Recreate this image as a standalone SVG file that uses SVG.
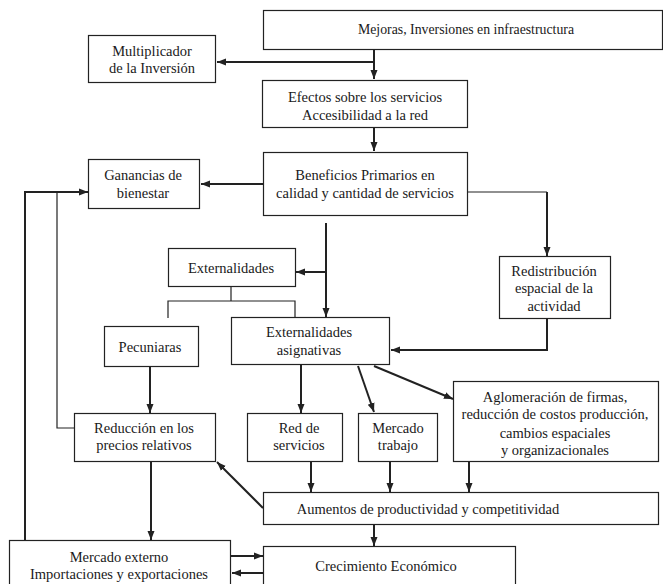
<svg xmlns="http://www.w3.org/2000/svg" width="663" height="584" viewBox="0 0 663 584">
<style>
.box{fill:#fff;stroke:#222;stroke-width:1.2}
text{font-family:"Liberation Serif","Times New Roman",serif;font-size:14.5px;fill:#1a1a1a;text-anchor:middle}
.c{fill:none;stroke:#222;stroke-width:2}
.t{fill:none;stroke:#222;stroke-width:1.2}
</style>
<defs>
<marker id="ah" markerUnits="userSpaceOnUse" markerWidth="10" markerHeight="10" viewBox="0 0 10 10" refX="9" refY="5" orient="auto">
<path d="M0,1.5 L9,5 L0,8.5 Z" fill="#222"/>
</marker>
</defs>
<rect width="663" height="584" fill="#fff"/>
<g id="connectors">
<path class="c" d="M374,49 V79" marker-end="url(#ah)"/>
<path class="c" d="M374,62 H217" marker-end="url(#ah)"/>
<path class="c" d="M374,127 V151" marker-end="url(#ah)"/>
<path class="c" d="M263,184 H201" marker-end="url(#ah)"/>
<path class="t" d="M468,192 H547"/>
<path class="c" d="M547,192 V256" marker-end="url(#ah)"/>
<path class="c" d="M326,223 V317" marker-end="url(#ah)"/>
<path class="c" d="M326,272 H296" marker-end="url(#ah)"/>
<path class="t" d="M231,287 V301 M168,318 V301 H295 V318"/>
<path class="c" d="M547,318 V350 H391" marker-end="url(#ah)"/>
<path class="c" d="M150,366 V413" marker-end="url(#ah)"/>
<path class="c" d="M301,365 V413" marker-end="url(#ah)"/>
<path class="c" d="M358,366 L374,412" marker-end="url(#ah)"/>
<path class="c" d="M374,366 L453,399" marker-end="url(#ah)"/>
<path class="c" d="M311,462 V492" marker-end="url(#ah)"/>
<path class="c" d="M390,462 V492" marker-end="url(#ah)"/>
<path class="c" d="M469,462 V492" marker-end="url(#ah)"/>
<path class="c" d="M263,508 L217,462" marker-end="url(#ah)"/>
<path class="c" d="M151,462 V540" marker-end="url(#ah)"/>
<path class="c" d="M374,525 V546" marker-end="url(#ah)"/>
<path class="c" d="M231,556 H263" marker-end="url(#ah)"/>
<path class="c" d="M263,573 H232" marker-end="url(#ah)"/>
<path class="c" d="M25,540 V192 H88" marker-end="url(#ah)"/>
<path class="t" d="M74,428 H57 V192"/>
</g>
<g id="n-mejoras"><rect class="box" x="263.5" y="10.5" width="399" height="39"/><text x="466" y="34" style="font-size:13.8px">Mejoras, Inversiones en infraestructura</text></g>
<g id="n-multiplicador"><rect class="box" x="88.5" y="35.5" width="127" height="47"/><text x="152" y="56">Multiplicador</text><text x="152" y="73">de la Inversión</text></g>
<g id="n-efectos"><rect class="box" x="262.5" y="80.5" width="205" height="47"/><text x="365" y="102">Efectos sobre los servicios</text><text x="365" y="119.5">Accesibilidad a la red</text></g>
<g id="n-beneficios"><rect class="box" x="263.5" y="152.5" width="204" height="63"/><text x="365" y="179.5">Beneficios Primarios en</text><text x="365" y="198">calidad y cantidad de servicios</text></g>
<g id="n-ganancias"><rect class="box" x="88.5" y="159.5" width="111" height="49"/><text x="143" y="180">Ganancias de</text><text x="143" y="198">bienestar</text></g>
<g id="n-redistribucion"><rect class="box" x="499.5" y="256.5" width="111" height="62"/><text x="554" y="275.5">Redistribución</text><text x="554" y="293">espacial de la</text><text x="554" y="310.5">actividad</text></g>
<g id="n-externalidades"><rect class="box" x="168.5" y="248.5" width="127" height="38"/><text x="231" y="272.5">Externalidades</text></g>
<g id="n-pecuniaras"><rect class="box" x="104.5" y="326.5" width="94" height="40"/><text x="150" y="351.5">Pecuniaras</text></g>
<g id="n-asignativas"><rect class="box" x="231.5" y="317.5" width="158" height="47"/><text x="309" y="337">Externalidades</text><text x="309" y="355">asignativas</text></g>
<g id="n-aglomeracion"><rect class="box" x="453.5" y="381.5" width="205" height="80"/><text x="555" y="401.5">Aglomeración de firmas,</text><text x="555" y="419">reducción de costos producción,</text><text x="555" y="437.5">cambios espaciales</text><text x="555" y="455">y organizacionales</text></g>
<g id="n-reduccion"><rect class="box" x="74.5" y="413.5" width="141" height="48"/><text x="144" y="433">Reducción en los</text><text x="144" y="450">precios relativos</text></g>
<g id="n-red"><rect class="box" x="247.5" y="413.5" width="95" height="48"/><text x="299" y="433">Red de</text><text x="299" y="450">servicios</text></g>
<g id="n-mercadotrabajo"><rect class="box" x="358.5" y="413.5" width="79" height="48"/><text x="398" y="433">Mercado</text><text x="398" y="450">trabajo</text></g>
<g id="n-aumentos"><rect class="box" x="263.5" y="492.5" width="395" height="32"/><text x="428" y="514">Aumentos de productividad y competitividad</text></g>
<g id="n-mercadoexterno"><rect class="box" x="9.5" y="540.5" width="221" height="50"/><text x="119" y="562">Mercado externo</text><text x="119" y="578.5">Importaciones y exportaciones</text></g>
<g id="n-crecimiento"><rect class="box" x="263.5" y="546.5" width="252" height="44"/><text x="386" y="571">Crecimiento Económico</text></g>
</svg>
